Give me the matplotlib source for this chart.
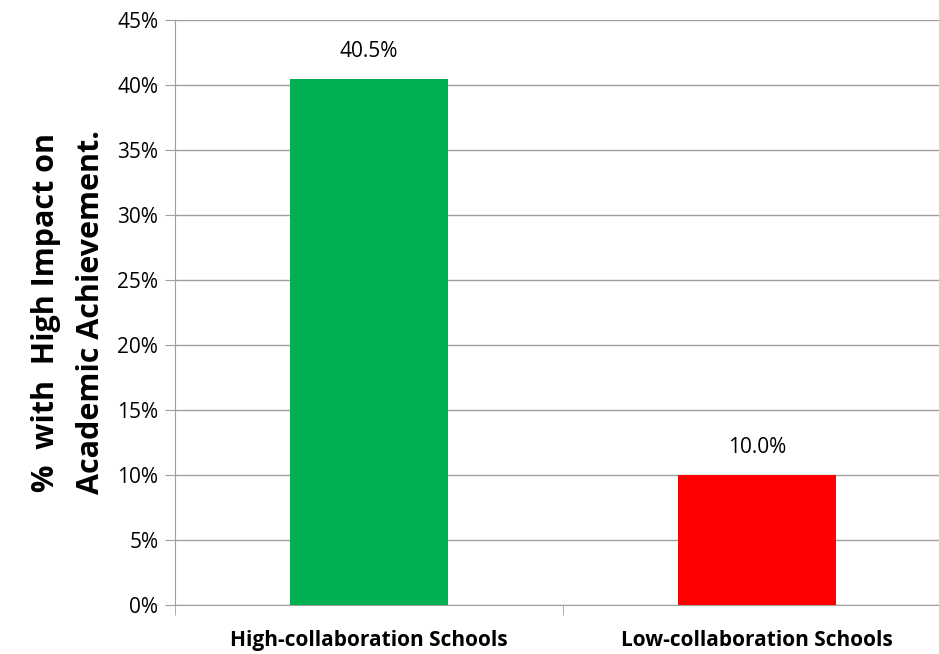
import matplotlib.pyplot as plt
from matplotlib.ticker import FixedLocator, PercentFormatter

categories = ['High-collaboration Schools', 'Low-collaboration Schools']
values = [40.5, 10.0]
colors = ['#00B050', '#FF0000']

plt.rcParams['font.family'] = ['Open Sans', 'DejaVu Sans']

dpi = 100
fig = plt.figure(dpi=dpi, figsize=(939 / dpi, 654 / dpi))
ax = fig.add_axes([175 / 939, 49 / 654, 776 / 939, 585 / 654])

xs = range(len(categories))
bars = ax.bar(xs, values, width=0.405, color=colors, zorder=3)
for b, v in zip(bars, values):
    ax.text(b.get_x() + b.get_width() / 2, v + 1.3, '%.1f%%' % v,
            ha='center', va='bottom', fontsize=15)

ax.set_xlim(-0.5, len(categories) - 0.5)
ax.set_ylim(0, 45)
ax.set_yticks(range(0, 46, 5))
ax.yaxis.set_major_formatter(PercentFormatter(decimals=0))
ax.grid(axis='y', color='#a0a0a0', linewidth=1, zorder=0)

ax.set_xticks(list(xs))
ax.set_xticklabels(categories, fontweight='bold', fontsize=15)
ax.xaxis.set_minor_locator(FixedLocator([-0.5, 0.5, 1.5]))
ax.tick_params(axis='x', which='major', length=0, pad=18)
ax.tick_params(axis='x', which='minor', length=7, color='#a0a0a0')
ax.tick_params(axis='y', length=7, color='#a0a0a0', labelsize=15, pad=5)

for s in ['top', 'right']:
    ax.spines[s].set_visible(False)
for s in ['left', 'bottom']:
    ax.spines[s].set_color('#a0a0a0')

ax.set_ylabel('%  with  High Impact on\nAcademic Achievement.',
              fontsize=22, fontweight='bold', labelpad=8, linespacing=1.65)

fig.savefig('out.png')
